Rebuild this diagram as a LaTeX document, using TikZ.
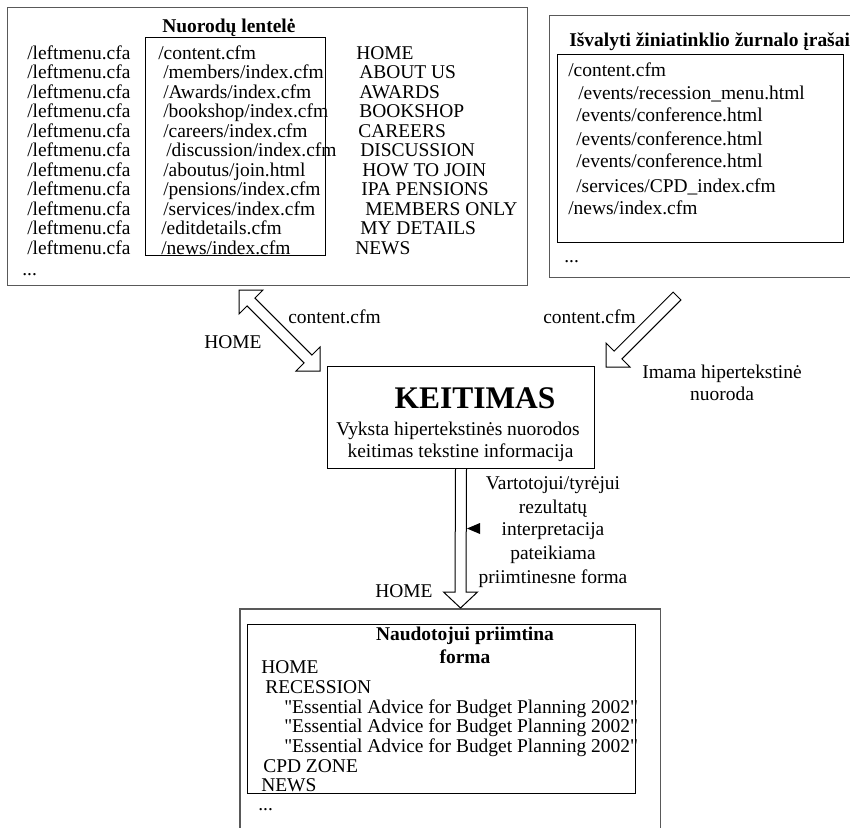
\documentclass[tikz,border=0pt]{standalone}
\usepackage{fontspec}
\setmainfont{Liberation Serif}[Ligatures=TeXOff]
\usetikzlibrary{calc}
\begin{document}
\begin{tikzpicture}[x=0.75pt,y=-0.75pt,
  txt/.style={inner sep=0pt, anchor=base west, font=\fontsize{14.6}{17}\selectfont},
  ctxt/.style={txt, anchor=base},
  ttl/.style={txt, font=\fontsize{14.6}{17}\selectfont\bfseries},
  outerbox/.style={draw=black!65, line width=0.9pt, inner sep=0pt, anchor=north west},
  innerbox/.style={draw=black, line width=0.75pt, inner sep=0pt, anchor=north west},
  blockarrow/.style={draw=black, line width=0.75pt, fill=white, line join=miter},
]
\useasboundingbox (0,0) rectangle (850,828);
\clip (0,0) rectangle (850,828);

% ---------- frames ----------
\node[outerbox, minimum width=390pt, minimum height=208.5pt] (links) at (7,7) {};
\node[innerbox, minimum width=135pt, minimum height=163.5pt] (pages) at (145,37) {};
\node[outerbox, minimum width=240.75pt, minimum height=196.5pt] (logs) at (549,15) {};
\node[innerbox, minimum width=214.5pt, minimum height=141pt] (logpages) at (557,54) {};
\node[innerbox, minimum width=200.25pt, minimum height=76.5pt] (change) at (327,366) {};
\node[outerbox, draw=none, minimum width=314.25pt, minimum height=180pt] (result) at (240,609) {};
\draw[black!65, line width=0.9pt] (result.south west) -- (result.north west)
      -- (result.north east) -- (result.south east);
\node[innerbox, minimum width=291pt, minimum height=126.75pt] (form) at (247,624) {};

% ---------- link table ----------
\node[ttl] (linkstitle) at (162,32) {Nuorodų lentelė};
\foreach \k in {0,...,10}
  \node[txt] (menu\k) at (27,{59.3+19.47*\k}) {/leftmenu.cfa};
\node[txt] (pg0)  at (158,59.3)  {/content.cfm};
\node[txt] (pg1)  at (163,78.8)  {/members/index.cfm};
\node[txt] (pg2)  at (163,98.2)  {/Awards/index.cfm};
\node[txt] (pg3)  at (163,117.7) {/bookshop/index.cfm};
\node[txt] (pg4)  at (163,137.2) {/careers/index.cfm};
\node[txt] (pg5)  at (166,156.7) {/discussion/index.cfm};
\node[txt] (pg6)  at (163,176.1) {/aboutus/join.html};
\node[txt] (pg7)  at (163,195.6) {/pensions/index.cfm};
\node[txt] (pg8)  at (163,215.1) {/services/index.cfm};
\node[txt] (pg9)  at (161,234.5) {/editdetails.cfm};
\node[txt] (pg10) at (161,254.0) {/news/index.cfm};
\node[txt] (mn0)  at (356,59.3)  {HOME};
\node[txt] (mn1)  at (359,78.8)  {ABOUT US};
\node[txt] (mn2)  at (359,98.2)  {AWARDS};
\node[txt] (mn3)  at (359,117.7) {BOOKSHOP};
\node[txt] (mn4)  at (358,137.2) {CAREERS};
\node[txt] (mn5)  at (360,156.7) {DISCUSSION};
\node[txt] (mn6)  at (362,176.1) {HOW TO JOIN};
\node[txt] (mn7)  at (361,195.6) {IPA PENSIONS};
\node[txt] (mn8)  at (365,215.1) {MEMBERS ONLY};
\node[txt] (mn9)  at (360,234.5) {MY DETAILS};
\node[txt] (mn10) at (355,254.0) {NEWS};
\node[txt] (linksmore) at (22,275) {...};

% ---------- cleaned log ----------
\node[ttl] (logstitle) at (569,46) {Išvalyti žiniatinklio žurnalo įrašai};
\node[txt] (lg0) at (568,76)    {/content.cfm};
\node[txt] (lg1) at (578,99.3)  {/events/recession\_menu.html};
\node[txt] (lg2) at (576,121.7) {/events/conference.html};
\node[txt] (lg3) at (576,145)   {/events/conference.html};
\node[txt] (lg4) at (576,167.3) {/events/conference.html};
\node[txt] (lg5) at (576,192.7) {/services/CPD\_index.cfm};
\node[txt] (lg6) at (568,214.3) {/news/index.cfm};
\node[txt] (logsmore) at (564,262) {...};

% ---------- block arrows ----------
\coordinate (dA) at (239,290);
\coordinate (dB) at (320,371);
\draw[blockarrow] (dA) -- ($(dA)+(24,0)$) -- ($(dA)+(15.9,8.1)$)
  -- ($(dB)+(-8.1,-15.9)$) -- ($(dB)+(0,-24)$) -- (dB) -- ($(dB)+(-24,0)$)
  -- ($(dB)+(-15.9,-8.1)$) -- ($(dA)+(8.1,15.9)$) -- ($(dA)+(0,24)$) -- cycle;

\coordinate (rT) at (677,296);
\coordinate (rP) at (606,367);
\draw[blockarrow] ($(rT)+(3.9,3.9)$) -- ($(rP)+(15.9,-8.1)$) -- ($(rP)+(24,0)$)
  -- (rP) -- ($(rP)+(0,-24)$) -- ($(rP)+(8.1,-15.9)$) -- ($(rT)+(-3.9,-3.9)$) -- cycle;

\coordinate (vT) at (change.south);
\coordinate (vP) at (460.5,608);
\draw[blockarrow] ($(vT)+(-5.5,0)$) -- ($(vP)+(-5.5,-16)$) -- ($(vP)+(-17,-16)$)
  -- (vP) -- ($(vP)+(17,-16)$) -- ($(vP)+(5.5,-16)$) -- ($(vT)+(5.5,0)$);

\coordinate (ptr) at (467,528.5);
\fill (ptr) -- ($(ptr)+(13,-5.5)$) -- ($(ptr)+(13,5.5)$) -- cycle;

% ---------- arrow labels ----------
\node[txt] (lblcontent) at (288,323) {content.cfm};
\node[txt] (lblhome) at (204,348) {HOME};
\node[txt] (lbllog) at (543,323) {content.cfm};
\node[ctxt] (take1) at (722,378) {Imama hipertekstinė};
\node[ctxt] (take2) at (722,400) {nuoroda};

% ---------- conversion ----------
\node[ctxt, font=\fontsize{23.6}{28}\selectfont\bfseries] (ktitle) at (475,408) {KEITIMAS};
\node[ctxt] (kline1) at (458,435) {Vyksta hipertekstinės nuorodos};
\node[ctxt] (kline2) at (460.5,457) {keitimas tekstine informacija};

\node[ctxt] (user1) at (553,489) {Vartotojui/tyrėjui};
\node[ctxt] (user2) at (553,513) {rezultatų};
\node[ctxt] (user3) at (553,535) {interpretacija};
\node[ctxt] (user4) at (553,559) {pateikiama};
\node[ctxt] (user5) at (553,583) {priimtinesne forma};
\node[txt] (lblhome2) at (375,597) {HOME};

% ---------- readable form ----------
\node[ctxt, font=\fontsize{14.6}{17}\selectfont\bfseries] (formtitle1) at (465,640) {Naudotojui priimtina};
\node[ctxt, font=\fontsize{14.6}{17}\selectfont\bfseries] (formtitle2) at (465,663) {forma};
\node[txt] (f0) at (261,673) {HOME};
\node[txt] (f1) at (265,693) {RECESSION};
\node[txt] (f2) at (284,713) {"Essential Advice for Budget Planning 2002"};
\node[txt] (f3) at (284,732) {"Essential Advice for Budget Planning 2002"};
\node[txt] (f4) at (284,752) {"Essential Advice for Budget Planning 2002"};
\node[txt] (f5) at (263,772) {CPD ZONE};
\node[txt] (f6) at (261,791) {NEWS};
\node[txt] (formmore) at (258,810) {...};
\end{tikzpicture}
\end{document}
